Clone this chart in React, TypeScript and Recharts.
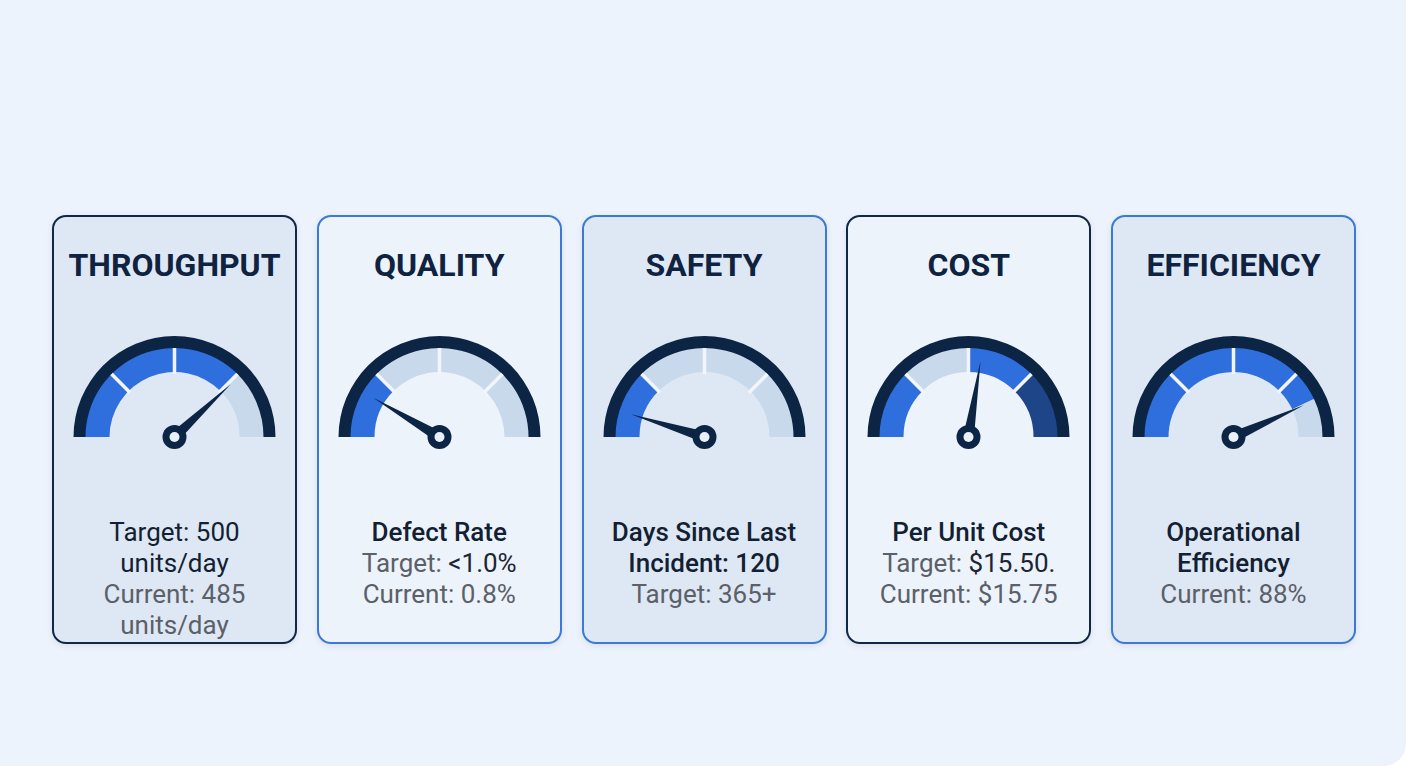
import React from 'react';
import { PieChart, Pie, Cell } from 'recharts';

// gauge data (values are % of the 180° sweep)
const titles = ['THROUGHPUT', 'QUALITY', 'SAFETY', 'COST', 'EFFICIENCY'];
const zoneShares = [25, 25, 25, 25];
const needleValues = [76, 17, 9.5, 55, 86.5];

const throughputBands = [
  { value: 75, tone: 'blue' },
  { value: 25, tone: 'light' },
];
const qualityBands = [
  { value: 25, tone: 'blue' },
  { value: 75, tone: 'light' },
];
const safetyBands = [
  { value: 25, tone: 'blue' },
  { value: 75, tone: 'light' },
];
const costBands = [
  { value: 25, tone: 'blue' },
  { value: 25, tone: 'light' },
  { value: 25, tone: 'blue' },
  { value: 25, tone: 'navy' },
];
const efficiencyBands = [
  { value: 86, tone: 'blue' },
  { value: 14, tone: 'light' },
];

type Part = { text: string; dark?: boolean };
type Line = { parts: Part[]; kind: 'main' | 'bold' | 'muted' };

const throughputLines: Line[] = [
  { parts: [{ text: 'Target: 500 units/day' }], kind: 'main' },
  { parts: [{ text: 'Current: 485 units/day' }], kind: 'muted' },
];
const qualityLines: Line[] = [
  { parts: [{ text: 'Defect Rate' }], kind: 'bold' },
  { parts: [{ text: 'Target: ' }, { text: '<1.0%', dark: true }], kind: 'muted' },
  { parts: [{ text: 'Current: 0.8%' }], kind: 'muted' },
];
const safetyLines: Line[] = [
  { parts: [{ text: 'Days Since Last Incident: 120' }], kind: 'bold' },
  { parts: [{ text: 'Target: 365+' }], kind: 'muted' },
];
const costLines: Line[] = [
  { parts: [{ text: 'Per Unit Cost' }], kind: 'bold' },
  { parts: [{ text: 'Target: ' }, { text: '$15.50.', dark: true }], kind: 'muted' },
  { parts: [{ text: 'Current: $15.75' }], kind: 'muted' },
];
const efficiencyLines: Line[] = [
  { parts: [{ text: 'Operational Efficiency' }], kind: 'bold' },
  { parts: [{ text: 'Current: 88%' }], kind: 'muted' },
];

const bandSets = [throughputBands, qualityBands, safetyBands, costBands, efficiencyBands];
const lineSets = [throughputLines, qualityLines, safetyLines, costLines, efficiencyLines];
const darkBorder = [true, false, false, true, false];
const shaded = [true, false, true, false, true];

const NAVY = '#0c2545';
const toneColor: Record<string, string> = {
  blue: '#2f6fdd',
  light: '#c9d9ec',
  navy: '#1d4587',
};

const RAD = Math.PI / 180;

function needleLabel(props: any) {
  if (props.index !== 0) return <g />;
  const { cx, cy, endAngle } = props;
  const len = 77;
  const half = 5.5;
  const tx = cx + len * Math.cos(endAngle * RAD);
  const ty = cy - len * Math.sin(endAngle * RAD);
  const bx1 = cx + half * Math.cos((endAngle + 90) * RAD);
  const by1 = cy - half * Math.sin((endAngle + 90) * RAD);
  const bx2 = cx + half * Math.cos((endAngle - 90) * RAD);
  const by2 = cy - half * Math.sin((endAngle - 90) * RAD);
  return (
    <g>
      <polygon points={`${bx1},${by1} ${tx},${ty} ${bx2},${by2}`} fill={NAVY} />
      <circle cx={cx} cy={cy} r={12} fill={NAVY} />
      <circle cx={cx} cy={cy} r={5} fill="#e9f0f9" />
    </g>
  );
}

function separatorLabel(props: any) {
  if (props.index === 0) return <g />;
  const { cx, cy, startAngle } = props;
  const c = Math.cos(startAngle * RAD);
  const s = Math.sin(startAngle * RAD);
  return (
    <line
      x1={cx + 63 * c}
      y1={cy - 63 * s}
      x2={cx + 89 * c}
      y2={cy - 89 * s}
      stroke="#f2f6fc"
      strokeWidth={3.5}
    />
  );
}

function Gauge({ bands, needle }: { bands: { value: number; tone: string }[]; needle: number }) {
  const needleData = [{ value: needle }, { value: 100 - needle }];
  const common = {
    dataKey: 'value',
    cx: 120.5,
    cy: 220,
    startAngle: 180,
    endAngle: 0,
    stroke: 'none',
    isAnimationActive: false,
  };
  return (
    <PieChart
      width={241}
      height={260}
      margin={{ top: 0, right: 0, bottom: 0, left: 0 }}
      style={{ position: 'absolute', left: 0, top: 0 }}
    >
      <Pie {...common} data={[{ value: 1 }]} innerRadius={88} outerRadius={101} fill={NAVY} />
      <Pie {...common} data={bands} innerRadius={65} outerRadius={89}>
        {bands.map((b, i) => (
          <Cell key={i} fill={toneColor[b.tone]} />
        ))}
      </Pie>
      <Pie
        {...common}
        data={zoneShares.map((v) => ({ value: v }))}
        innerRadius={65}
        outerRadius={89}
        fill="none"
        label={separatorLabel}
        labelLine={false}
      />
      <Pie
        {...common}
        data={needleData}
        innerRadius={0}
        outerRadius={77}
        fill="none"
        label={needleLabel}
        labelLine={false}
      />
    </PieChart>
  );
}

function Card({ i }: { i: number }) {
  const lines = lineSets[i];
  return (
    <div
      style={{
        position: 'absolute',
        left: 52 + i * 264.75,
        top: 215,
        width: 245,
        height: 429,
        boxSizing: 'border-box',
        border: `2px solid ${darkBorder[i] ? '#102846' : '#3a7ad6'}`,
        borderRadius: 14,
        background: shaded[i] ? '#dee8f4' : '#edf3fb',
        boxShadow: '0 2px 6px rgba(30,60,110,0.10)',
      }}
    >
      <div
        style={{
          position: 'absolute',
          left: -10,
          right: -10,
          top: 32,
          textAlign: 'center',
          fontSize: 32,
          fontWeight: 700,
          lineHeight: '32px',
          color: '#0f2340',
        }}
      >
        {titles[i]}
      </div>
      <Gauge bands={bandSets[i]} needle={needleValues[i]} />
      <div
        style={{
          position: 'absolute',
          left: 12,
          right: 12,
          top: 300,
          textAlign: 'center',
          fontSize: 26,
          lineHeight: '31px',
        }}
      >
        {lines.map((ln, j) => (
          <div
            key={j}
            style={{
              color: ln.kind === 'muted' ? '#5b6069' : '#131f33',
              fontWeight: ln.kind === 'bold' ? 500 : 400,
            }}
          >
            {ln.parts.map((p, k) => (
              <span key={k} style={p.dark ? { color: '#1d2533' } : undefined}>
                {p.text}
              </span>
            ))}
          </div>
        ))}
      </div>
    </div>
  );
}

export default function App() {
  return (
    <div
      style={{
        position: 'relative',
        width: 1408,
        height: 768,
        background: '#ffffff',
        fontFamily: 'Roboto, "Noto Sans", sans-serif',
        overflow: 'hidden',
      }}
    >
      <style>{'body{margin:0}'}</style>
      <div
        style={{
          position: 'absolute',
          left: 0,
          top: 0,
          width: 1406,
          height: 766,
          background: '#edf3fc',
          borderBottomRightRadius: 22,
        }}
      />
      {titles.map((_, i) => (
        <Card key={i} i={i} />
      ))}
    </div>
  );
}
